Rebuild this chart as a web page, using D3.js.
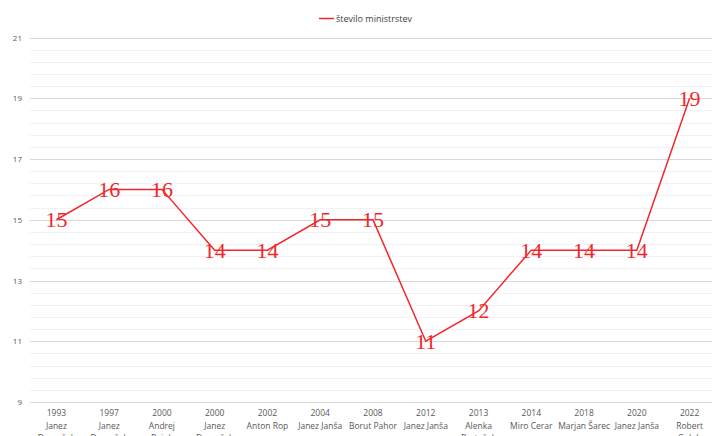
<!DOCTYPE html>
<html><head><meta charset="utf-8">
<script src="https://cdn.jsdelivr.net/npm/d3@7"></script>
<style>body{margin:0;background:#fff}svg{display:block}</style>
</head><body>
<svg id="c" width="712" height="436"></svg>
<script>
const years = ["1993","1997","2000","2000","2002","2004","2008","2012","2013","2014","2018","2020","2022"];
const names = [["Janez","Drnovšek"],["Janez","Drnovšek"],["Andrej","Bajuk"],["Janez","Drnovšek"],["Anton Rop"],["Janez Janša"],["Borut Pahor"],["Janez Janša"],["Alenka","Bratušek"],["Miro Cerar"],["Marjan Šarec"],["Janez Janša"],["Robert","Golob"]];
const values = [15,16,16,14,14,15,15,11,12,14,14,14,19];
const seriesName = "število ministrstev";
const yTicks = [9,11,13,15,17,19,21];

(function(){
const svg = d3.select("#c");
const pLeft = 30, pRight = 716, pTop = 37.5, pBottom = 402;
const x = d3.scaleBand().domain(d3.range(values.length)).range([pLeft, pRight]);
const y = d3.scaleLinear().domain([9, 21]).range([pBottom, pTop]);
const red = "#f0282d";

// minor gridlines
const minor = d3.range(9, 21.001, 0.4).filter(v => Math.abs(v - Math.round(v)) > 0.01 || Math.round(v) % 2 === 0);
svg.append("g").selectAll("line").data(minor).join("line")
  .attr("x1", pLeft).attr("x2", 712)
  .attr("y1", d => Math.round(y(d)) + 0.5).attr("y2", d => Math.round(y(d)) + 0.5)
  .attr("stroke", "#f2f2f2").attr("stroke-width", 1);
// major gridlines + y axis labels
const yAxis = d3.axisLeft(y).tickValues(yTicks).tickSize(0).tickPadding(8);
const gy = svg.append("g").attr("transform", `translate(${pLeft},0)`).call(yAxis);
gy.select(".domain").remove();
gy.selectAll("text").attr("font-family", "'Open Sans', sans-serif").attr("font-size", 8).attr("fill", "#595959");
svg.append("g").selectAll("line").data(yTicks).join("line")
  .attr("x1", pLeft).attr("x2", 712)
  .attr("y1", d => Math.round(y(d)) + 0.5).attr("y2", d => Math.round(y(d)) + 0.5)
  .attr("stroke", "#d9d9d9").attr("stroke-width", 1);

// x labels
const xl = svg.append("g").attr("font-family", "'Open Sans', sans-serif").attr("font-size", 8.5).attr("fill", "#595959").attr("text-anchor", "middle");
values.forEach((v, i) => {
  const cx = x(i) + x.bandwidth() / 2;
  const t = xl.append("text").attr("x", cx).attr("y", 416);
  t.append("tspan").attr("x", cx).attr("dy", 0).text(years[i]);
  names[i].forEach(n => t.append("tspan").attr("x", cx).attr("dy", 12.5).text(n));
});

// line
const line = d3.line().x((d, i) => x(i) + x.bandwidth() / 2).y(d => y(d));
svg.append("path").datum(values).attr("d", line).attr("fill", "none")
  .attr("stroke", red).attr("stroke-width", 1.5);

// data labels
svg.append("g").selectAll("text").data(values).join("text")
  .attr("x", (d, i) => x(i) + x.bandwidth() / 2)
  .attr("y", d => y(d) + 7.5)
  .attr("text-anchor", "middle")
  .attr("font-family", "'Liberation Serif', serif")
  .attr("font-size", 22).attr("fill", red)
  .text(d => d);

// legend
const lg = svg.append("g");
lg.append("line").attr("x1", 319).attr("x2", 334).attr("y1", 18.5).attr("y2", 18.5).attr("stroke", red).attr("stroke-width", 1.5);
lg.append("text").attr("x", 336).attr("y", 21.5).attr("font-family", "'Open Sans', sans-serif").attr("font-size", 9).attr("fill", "#404040").text(seriesName);
})();
</script>
</body></html>
